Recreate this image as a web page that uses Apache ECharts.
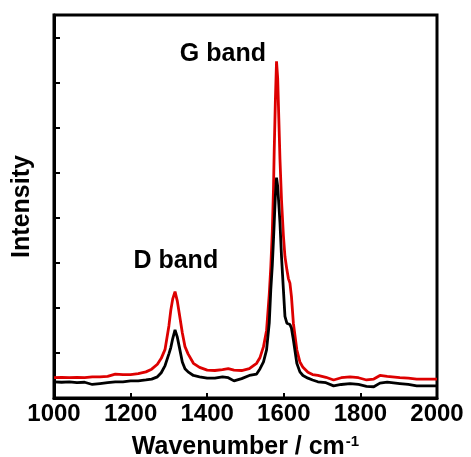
<!DOCTYPE html>
<html>
<head>
<meta charset="utf-8">
<script src="https://cdn.jsdelivr.net/npm/echarts@6/dist/echarts.min.js"></script>
<style>
html,body{margin:0;padding:0;background:#fff;}
#chart{width:471px;height:457px;}
</style>
</head>
<body>
<div id="chart"></div>
<script>
var wavenumbers = [1000,1020,1040,1060,1080,1100,1120,1140,1160,1180,1200,1220,1240,1255,1270,1280,1290,1300,1305,1310,1316,1322,1327,1335,1342,1350,1364,1380,1400,1420,1440,1455,1470,1490,1510,1529,1538,1547,1555,1562,1566,1570,1573,1575,1578,1581,1584,1587,1590,1594,1599,1603,1608,1612,1616,1620,1625,1634,1642,1650,1663,1675,1689,1710,1730,1750,1773,1795,1816,1835,1851,1870,1903,1925,1947,1970,1990,2000];
var redIntensity = [0.45,0.46,0.45,0.46,0.45,0.47,0.47,0.48,0.53,0.52,0.52,0.54,0.58,0.64,0.75,0.88,1.08,1.60,1.95,2.20,2.36,2.15,1.88,1.45,1.14,0.98,0.77,0.68,0.62,0.61,0.63,0.65,0.62,0.61,0.65,0.77,0.90,1.14,1.50,2.30,2.90,3.70,4.62,5.50,6.60,7.47,7.10,6.20,5.30,4.40,3.60,3.14,2.85,2.65,2.55,2.25,1.66,1.07,0.80,0.68,0.57,0.52,0.50,0.46,0.40,0.45,0.47,0.45,0.40,0.42,0.50,0.48,0.45,0.44,0.42,0.42,0.42,0.42];
var blackIntensity = [0.36,0.35,0.36,0.34,0.35,0.30,0.32,0.34,0.36,0.36,0.38,0.38,0.40,0.42,0.47,0.56,0.72,0.98,1.12,1.32,1.51,1.35,1.14,0.80,0.65,0.58,0.50,0.47,0.44,0.44,0.47,0.45,0.38,0.43,0.50,0.53,0.65,0.80,1.07,1.66,2.40,2.95,3.50,3.89,4.50,4.89,4.70,4.30,3.89,3.14,2.40,1.81,1.66,1.65,1.63,1.55,1.29,0.77,0.58,0.50,0.44,0.40,0.36,0.34,0.27,0.30,0.32,0.30,0.26,0.25,0.33,0.35,0.32,0.30,0.27,0.27,0.27,0.27];
var xTicks = {min: 1000, max: 2000, step: 200};
var annotationText = ['G band', 'D band'];
var annotationX = [1441, 1318];
var annotationY = [7.64, 3.04];

var FONT = '"Liberation Sans", Arial, sans-serif';
function pairs(xs, ys){ return xs.map(function(x,i){ return [x, ys[i]]; }); }

var chart = echarts.init(document.getElementById('chart'));
chart.setOption({
  animation: false,
  backgroundColor: '#fff',
  grid: {left: 54, right: 34, top: 15, bottom: 59, show: true, borderColor: '#000', borderWidth: 3,
         containLabel: false, outerBoundsMode: 'none'},
  xAxis: {
    type: 'value', min: xTicks.min, max: xTicks.max, interval: xTicks.step,
    axisLine: {show: true, lineStyle: {color: '#000', width: 3}},
    axisTick: {show: true, inside: true, length: 5, lineStyle: {color: '#000', width: 2}},
    splitLine: {show: false},
    axisLabel: {color: '#000', fontFamily: FONT, fontWeight: 'bold', fontSize: 24, margin: 4,
      formatter: function(v){ return String(v); }},
    name: '{m|Wavenumber / cm}{s|-1}',
    nameLocation: 'middle', nameGap: 36,
    nameTextStyle: {
      rich: {
        m: {fontFamily: FONT, fontWeight: 'bold', fontSize: 25, color: '#000'},
        s: {fontFamily: FONT, fontWeight: 'bold', fontSize: 15, color: '#000', padding: [0,0,12,1]}
      }
    }
  },
  yAxis: {
    type: 'value', min: 0, max: 8.5, interval: 1,
    axisLine: {show: true, lineStyle: {color: '#000', width: 3}},
    axisTick: {show: true, inside: true, length: 6, lineStyle: {color: '#000', width: 2}},
    splitLine: {show: false},
    axisLabel: {show: false},
    name: 'Intensity', nameLocation: 'middle', nameGap: 19,
    nameTextStyle: {fontFamily: FONT, fontWeight: 'bold', fontSize: 25, color: '#000'}
  },
  series: [
    {
      type: 'line', data: pairs(wavenumbers, redIntensity), showSymbol: false, symbol: 'none',
      lineStyle: {color: '#dd0000', width: 2.8}, z: 2,
      markPoint: {
        symbol: 'rect', symbolSize: 1, itemStyle: {color: 'rgba(0,0,0,0)'},
        label: {show: true, position: 'inside', color: '#000', fontFamily: FONT, fontWeight: 'bold', fontSize: 25,
          formatter: function(p){ return p.name; }},
        data: annotationText.map(function(t,i){ return {name: t, coord: [annotationX[i], annotationY[i]]}; })
      }
    },
    {
      type: 'line', data: pairs(wavenumbers, blackIntensity), showSymbol: false, symbol: 'none',
      lineStyle: {color: '#000', width: 2.8}, z: 3
    }
  ]
});
</script>
</body>
</html>
